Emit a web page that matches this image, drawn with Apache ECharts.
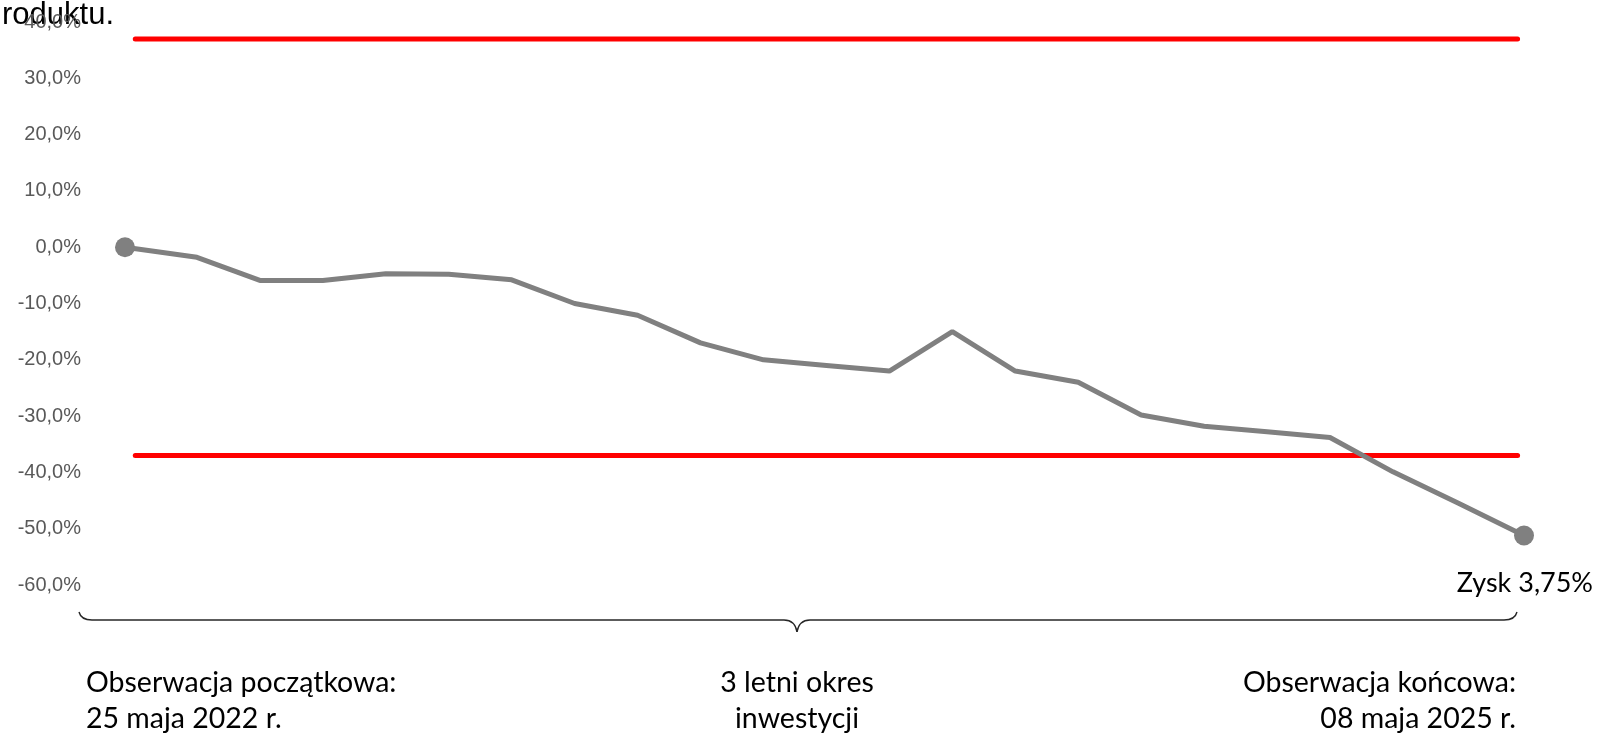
<!DOCTYPE html>
<html>
<head>
<meta charset="utf-8">
<script src="https://cdn.jsdelivr.net/npm/echarts@6/dist/echarts.min.js"></script>
<style>
html,body{margin:0;padding:0;background:#fff;}
#chart{width:1599px;height:734px;}
</style>
</head>
<body>
<div id="chart"></div>
<script>
// Observation times (days since initial observation, 25 May 2022)
const obsDays = [0, 56, 105, 154, 203, 252, 301, 350, 399, 448, 497, 546, 595, 644, 693, 742, 791, 840, 889, 938, 987, 1038, 1089];
// Performance vs initial observation (%)
const perfValues = [0, -1.8, -5.9, -5.9, -4.7, -4.8, -5.8, -10.0, -12.1, -17.0, -20.0, -21.0, -22.0, -15.0, -22.0, -24.0, -29.8, -31.8, -32.8, -33.8, -39.9, -45.5, -51.2];
// Barrier levels (%)
const upperBarrier = 37;
const lowerBarrier = -37;
const barrierSpan = [8, 1084];
// Y axis ticks
const yMin = -60, yMax = 40, yStep = 10;
// Texts
const headText = 'roduktu.';
const endLabel = 'Zysk 3,75%';
const leftText = 'Obserwacja początkowa:\n25 maja 2022 r.';
const midText = '3 letni okres\ninwestycji';
const rightText = 'Obserwacja końcowa:\n08 maja 2025 r.';

const chart = echarts.init(document.getElementById('chart'), null, {renderer: 'canvas'});

const lineData = perfValues.map((v, i) => {
  const isEnd = (i === 0 || i === perfValues.length - 1);
  return {
    value: [obsDays[i], v],
    symbol: isEnd ? 'circle' : 'none',
    symbolSize: isEnd ? 20 : 0
  };
});

const braceStyle = {fill: 'none', stroke: '#262626', lineWidth: 1.4};
const bc = (x1, y1, cx, cy, x2, y2) => ({type: 'bezierCurve', shape: {x1, y1, cpx1: cx, cpy1: cy, x2, y2}, style: braceStyle});
const ln = (x1, y1, x2, y2) => ({type: 'line', shape: {x1, y1, x2, y2}, style: braceStyle});

const option = {
  animation: false,
  grid: {left: 125, right: 75, top: 22, bottom: 149, containLabel: false},
  xAxis: {type: 'value', min: 0, max: obsDays[obsDays.length - 1], show: false},
  yAxis: {
    type: 'value', min: yMin, max: yMax, interval: yStep,
    axisLine: {show: false}, axisTick: {show: false}, splitLine: {show: false},
    axisLabel: {
      margin: 44, color: '#595959', fontFamily: 'Liberation Sans', fontSize: 20,
      formatter: v => v.toFixed(1).replace('.', ',') + '%'
    }
  },
  series: [
    {
      type: 'line', data: [[barrierSpan[0], upperBarrier], [barrierSpan[1], upperBarrier]],
      symbol: 'none', lineStyle: {color: '#FF0000', width: 5, cap: 'round'}, z: 2
    },
    {
      type: 'line', data: [[barrierSpan[0], lowerBarrier], [barrierSpan[1], lowerBarrier]],
      symbol: 'none', lineStyle: {color: '#FF0000', width: 5, cap: 'round'}, z: 2
    },
    {
      type: 'line', data: lineData,
      lineStyle: {color: '#808080', width: 5},
      itemStyle: {color: '#808080'}, z: 3
    }
  ],
  graphic: [
    {type: 'text', x: 2, y: 0, style: {text: headText, fill: '#000', font: '31px "Liberation Sans"'}},
    {type: 'text', x: 1593, y: 570, style: {text: endLabel, fill: '#000', font: '27px Lato', align: 'right', verticalAlign: 'top'}},
    bc(79, 612, 81, 620, 92, 620),
    ln(92, 620, 784, 620),
    bc(784, 620, 795, 620, 797, 632),
    bc(797, 632, 799, 620, 810, 620),
    ln(810, 620, 1504, 620),
    bc(1504, 620, 1515, 620, 1517, 612),
    {type: 'text', x: 86, y: 665, style: {text: leftText, fill: '#000', font: '28.5px Lato', lineHeight: 36, align: 'left', verticalAlign: 'top'}},
    {type: 'text', x: 797, y: 665, style: {text: midText, fill: '#000', font: '28.5px Lato', lineHeight: 36, align: 'center', verticalAlign: 'top'}},
    {type: 'text', x: 1516, y: 665, style: {text: rightText, fill: '#000', font: '28.5px Lato', lineHeight: 36, align: 'right', verticalAlign: 'top'}}
  ]
};
chart.setOption(option);
</script>
</body>
</html>
